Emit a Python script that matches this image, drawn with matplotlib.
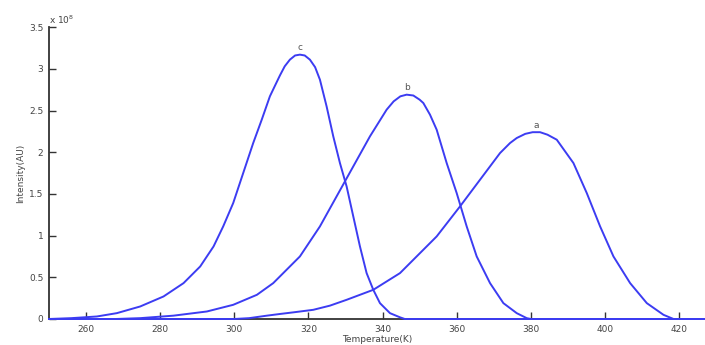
import matplotlib
matplotlib.use('Agg')
import matplotlib.pyplot as plt

# glow curves (intensity in units of 1e8)
T_a = [250, 300.0, 304.0, 308.8, 312.3, 316.0, 321.3, 325.8, 330.3, 337.5, 344.7, 348.3,
       354.6, 360.9, 366.3, 369.0, 371.7, 374.4, 376.2, 378.5, 380.5, 382.5, 384.5, 387.0,
       391.5, 395.1, 398.7, 402.3, 406.8, 411.3, 415.8, 418.5, 428]
I_a = [0, 0, 0.01, 0.04, 0.06, 0.08, 0.11, 0.16, 0.23, 0.35, 0.55, 0.71,
       0.99, 1.35, 1.67, 1.83, 1.99, 2.11, 2.17, 2.22, 2.24, 2.24, 2.21, 2.15,
       1.87, 1.51, 1.11, 0.75, 0.43, 0.19, 0.05, 0, 0]

T_b = [250, 268.0, 274.6, 283.6, 292.6, 299.7, 306.1, 310.5, 312.3, 315.0, 317.7, 323.1,
       327.6, 332.1, 336.6, 341.1, 343.0, 344.8, 346.5, 348.3, 350.0, 351.0, 352.8, 354.6,
       357.3, 360.0, 362.7, 365.4, 369.0, 372.6, 376.2, 378.9, 380.0, 428]
I_b = [0, 0, 0.01, 0.04, 0.09, 0.17, 0.29, 0.43, 0.51, 0.63, 0.75, 1.11,
       1.47, 1.83, 2.19, 2.51, 2.61, 2.67, 2.69, 2.68, 2.63, 2.59, 2.45, 2.27,
       1.87, 1.51, 1.11, 0.75, 0.43, 0.19, 0.07, 0.01, 0, 0]

T_c = [250, 256.0, 262.9, 268.3, 274.6, 280.9, 286.3, 290.8, 294.4, 297.0, 299.7, 302.4,
       305.1, 307.4, 309.6, 311.0, 312.3, 313.6, 315.0, 316.4, 317.7, 319.0, 320.4, 321.8,
       323.1, 324.9, 326.7, 328.5, 330.3, 332.1, 333.9, 335.7, 337.5, 339.3, 342.0, 344.7,
       346.0, 428]
I_c = [0, 0.01, 0.03, 0.07, 0.15, 0.27, 0.43, 0.63, 0.87, 1.11, 1.39, 1.75,
       2.11, 2.39, 2.67, 2.80, 2.92, 3.03, 3.11, 3.16, 3.17, 3.16, 3.11, 3.02,
       2.87, 2.55, 2.19, 1.87, 1.59, 1.23, 0.87, 0.55, 0.35, 0.19, 0.07, 0.02,
       0, 0]

peaks = [('a', 381.5, 2.24), ('b', 346.5, 2.69), ('c', 317.7, 3.17)]

blue = '#3c3cf2'
grey = '#333333'

fig = plt.figure(figsize=(7.05, 3.45), dpi=100)
ax = fig.add_axes([0.0695, 0.0754, 0.9305, 0.846])

# curves drawn over the bottom spine, like the original's blue baseline
for T, I in [(T_a, I_a), (T_b, I_b), (T_c, I_c)]:
    ax.plot(T, I, color=blue, lw=1.4, zorder=3, clip_on=False,
            solid_joinstyle='round')
for name, t, i in peaks:
    ax.text(t, i + 0.03, name, ha='center', va='bottom', fontsize=6.5, color='#555555')

ax.set_xlim(250, 427)
ax.set_ylim(0, 3.5)
ax.set_xticks(range(260, 421, 20))
ax.set_yticks([0, 0.5, 1, 1.5, 2, 2.5, 3, 3.5])
ax.set_yticklabels(['0', '0.5', '1', '1.5', '2', '2.5', '3', '3.5'])
ax.tick_params(direction='in', length=5, width=1, colors=grey, labelsize=6.5,
               labelcolor='#444444', pad=4)

ax.spines['top'].set_visible(False)
ax.spines['right'].set_visible(False)
ax.spines['left'].set_color(grey)
ax.spines['bottom'].set_color(grey)
ax.spines['left'].set_linewidth(1.3)
ax.spines['bottom'].set_linewidth(1.3)

ax.set_xlabel('Temperature(K)', fontsize=6.5, color='#444444', labelpad=1)
ax.set_ylabel('Intensity(AU)', fontsize=6.5, color='#444444', labelpad=3)
ax.text(0.0, 1.005, r'x 10$^8$', transform=ax.transAxes, fontsize=6.5,
        color='#444444', ha='left', va='bottom')

fig.savefig('out.png', dpi=100)
